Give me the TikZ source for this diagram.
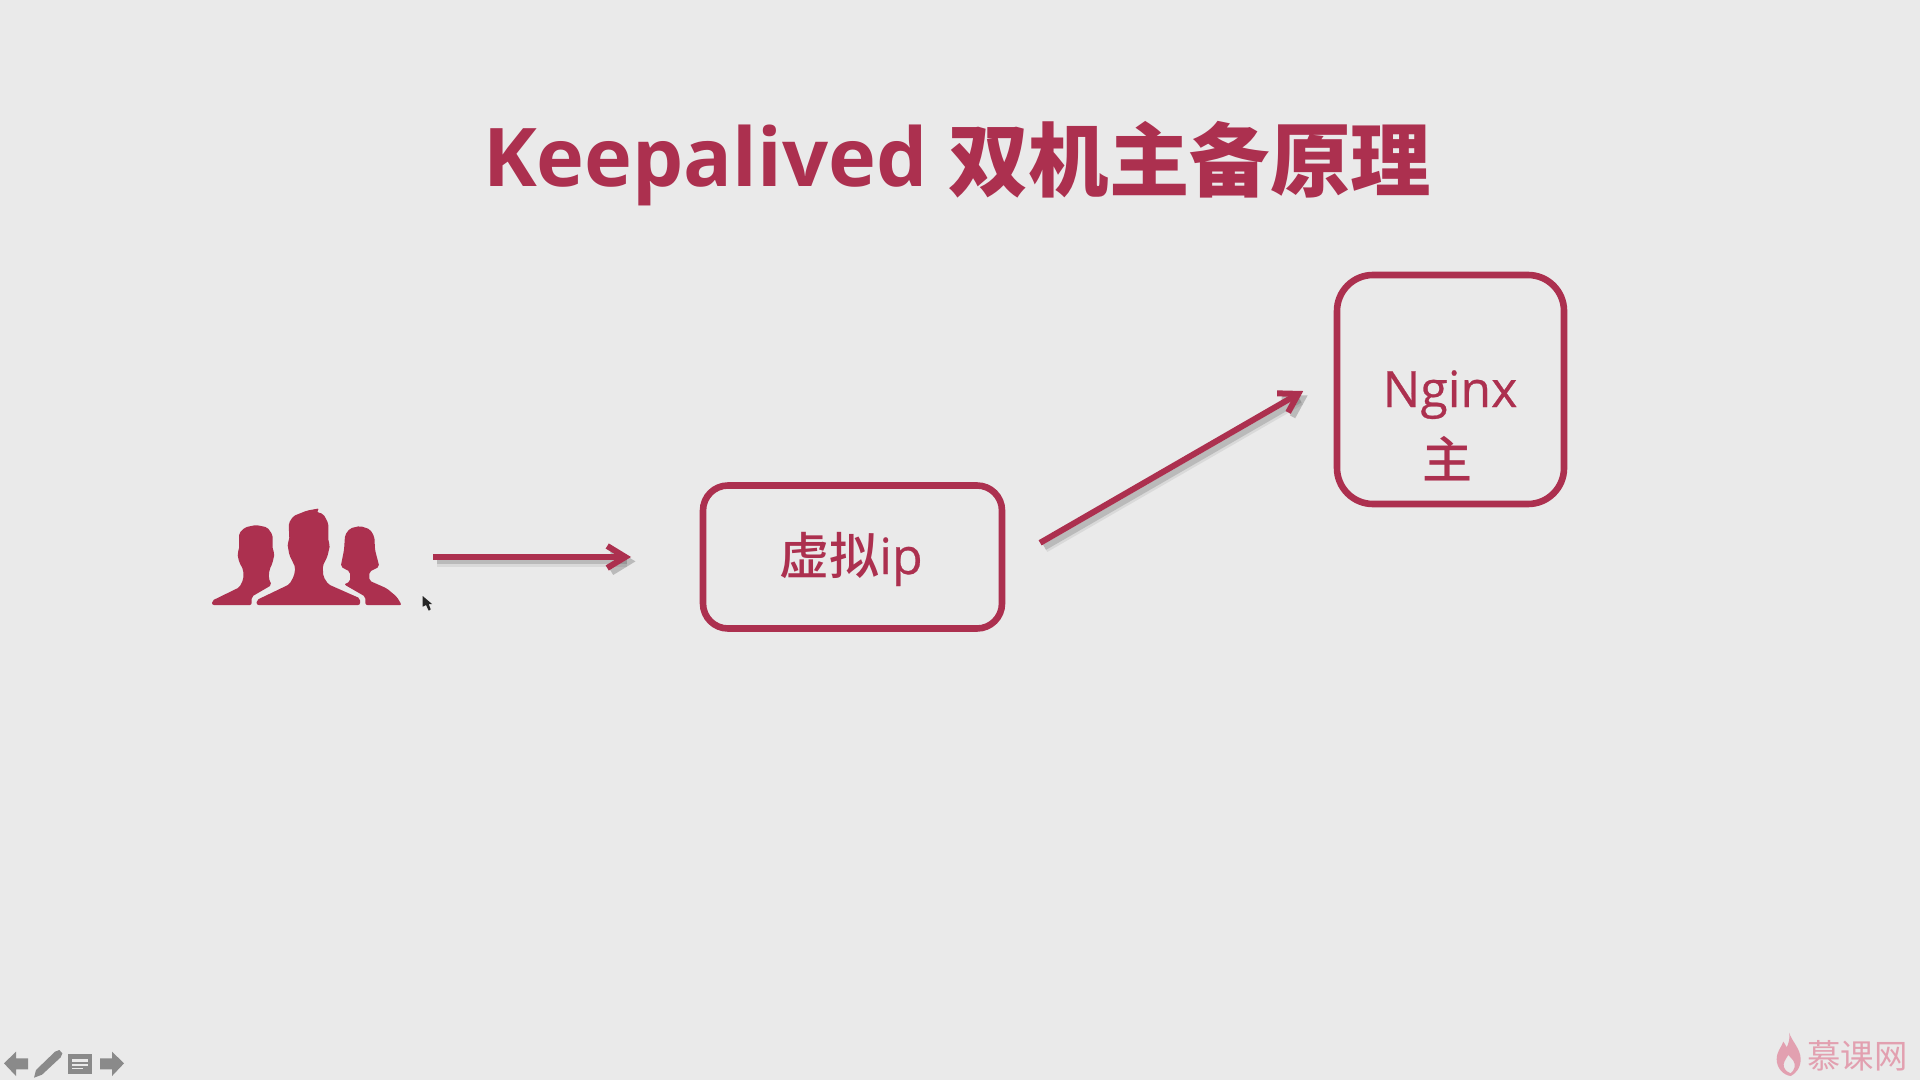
\documentclass[tikz,border=0pt]{standalone}
\usepackage{fontspec}
\setmainfont{Open Sans}
\newfontfamily\cjk{Noto Sans CJK SC Medium}
\newfontfamily\cjkbold{Noto Sans CJK SC Bold}
\newfontfamily\cjkreg{Noto Sans CJK SC}
\newfontfamily\latinmed[FakeBold=0.5]{Open Sans}
\usetikzlibrary{arrows.meta,shapes.misc}
\definecolor{bgc}{HTML}{EAEAEA}
\definecolor{main}{HTML}{AC304F}
\definecolor{tool}{HTML}{8A8A8A}
\definecolor{wm}{HTML}{E2A0B0}
\tikzset{
  box/.style={draw=main,line width=3.3pt,rectangle,rounded corners=#1,outer sep=0pt,inner sep=0pt,text=main},
  lbl/.style={text=main,font=\latinmed\fontsize{25pt}{30pt}\selectfont,inner sep=0pt},
  conn/.style={draw=main,line width=3pt,-{Straight Barb[length=9pt,width=11pt,line width=3pt]},
    preaction={draw=black!70,draw opacity=.10,line width=5.5pt,transform canvas={shift={(2.2pt,-2.2pt)}}},
    preaction={draw=black!70,draw opacity=.22,line width=3pt,transform canvas={shift={(2.2pt,-2.2pt)}}}}
}
\begin{document}
\begin{tikzpicture}[x=0.5pt,y=-0.5pt]
\fill[bgc] (0,0) rectangle (1920,1080);
\useasboundingbox (0,0) rectangle (1920,1080);
% title
\node[anchor=base,text=main,inner sep=0pt,font=\fontsize{40.5pt}{48pt}\selectfont\bfseries] (title) at (957,187)
  {Keepalived \raisebox{-1.8pt}{\cjkbold\fontsize{40.2pt}{48pt}\selectfont 双机主备原理}};
% boxes
\node[box=12.5pt,minimum width=149.5pt,minimum height=71.5pt] (vip) at (852.5,557) {};
\node[lbl,anchor=center] (viplabel) at (851,559) {{\cjk 虚拟}ip};
\node[box=18pt,minimum width=113.5pt,minimum height=114.5pt] (nginx) at (1450.5,389.5) {};
\node[lbl,anchor=base] (nginxlabel) at (1450,407) {Nginx};
\node[lbl,anchor=base,font=\cjk\fontsize{25pt}{30pt}\selectfont] (zhu) at (1447,478) {主};
% users
\node[minimum width=95.5pt,minimum height=50pt,inner sep=0pt,outer sep=0pt] (users) at (307.5,557) {};
\begin{scope}[shift={(190,490)},x=0.1667pt,y=-0.1667pt]
\fill[main,rounded corners=1pt] (200,345)--(200,330)--(298,283)--(312,258)--(316,232)--(298,195)--(292,160)--(298,150)--(296,100)--(310,78)--(350,62)--(388,55)--(380,66)--(400,72)--(415,100)--(415,155)--(420,165)--(412,200)--(398,228)--(400,260)--(415,283)--(510,325)--(510,345)--cycle;
\fill[main,rounded corners=1pt] (66,345)--(66,332)--(148,292)--(160,268)--(160,240)--(147,215)--(142,190)--(147,180)--(147,130)--(165,112)--(198,105)--(232,112)--(248,135)--(248,180)--(254,190)--(247,220)--(238,240)--(236,265)--(245,285)--(185,320)--(185,345)--cycle;
\fill[main,rounded corners=1pt] (526,345)--(526,320)--(462,283)--(480,275)--(480,245)--(452,230)--(462,180)--(465,135)--(480,115)--(510,108)--(540,118)--(553,140)--(555,180)--(568,230)--(538,245)--(538,272)--(590,295)--(620,320)--(635,345)--cycle;
% cursor
\fill[black!85] (698,318)--(698,350)--(708,345)--(716,362)--(722,358)--(716,342)--(726,342)--cycle;
\end{scope}
% connectors
\draw[conn,shorten <=22pt,shorten >=19.5pt,shorten <=22pt] (vip.-3.0) -- (nginx.171);
\draw[conn,shorten <=15pt,shorten >=36pt] (users.east) -- (vip.west |- users.east);
% toolbar
\begin{scope}[shift={(0,1030)},x=0.1667pt,y=-0.1667pt]
\fill[tool] (12,100)--(48,65)--(48,85)--(84,85)--(84,118)--(48,118)--(48,138)--cycle;
\fill[tool] (300,85)--(336,85)--(336,65)--(372,100)--(336,138)--(336,118)--(300,118)--cycle;
\fill[tool] (102,143)--(108,120)--(165,65)--(178,60)--(187,70)--(182,82)--(126,134)--cycle;
\fill[tool] (204,72) rectangle (276,132);
\fill[bgc] (216,88) rectangle (264,95);
\fill[bgc] (216,102) rectangle (264,107);
\fill[bgc] (216,113) rectangle (250,117);
\end{scope}
% watermark
\begin{scope}[shift={(1760,1020)},x=0.1667pt,y=-0.1667pt]
\fill[wm,even odd rule] (88,38) .. controls (92,60) and (122,85) .. (122,118) .. controls (122,145) and (105,162) .. (92,168) .. controls (70,165) and (50,145) .. (50,118) .. controls (50,95) and (62,85) .. (70,65) .. controls (75,72) and (78,78) .. (80,82) .. controls (86,70) and (90,55) .. (88,38) -- cycle
 (85,105) .. controls (75,120) and (68,130) .. (72,142) .. controls (76,152) and (85,158) .. (92,160) .. controls (104,150) and (108,135) .. (100,122) .. controls (96,115) and (90,112) .. (85,105) -- cycle;
\end{scope}
\node[anchor=west,inner sep=0pt,text=wm,font=\cjkreg\fontsize{16.7pt}{20pt}\selectfont] (wmtext) at (1807,1056) {慕课网};
\end{tikzpicture}
\end{document}
